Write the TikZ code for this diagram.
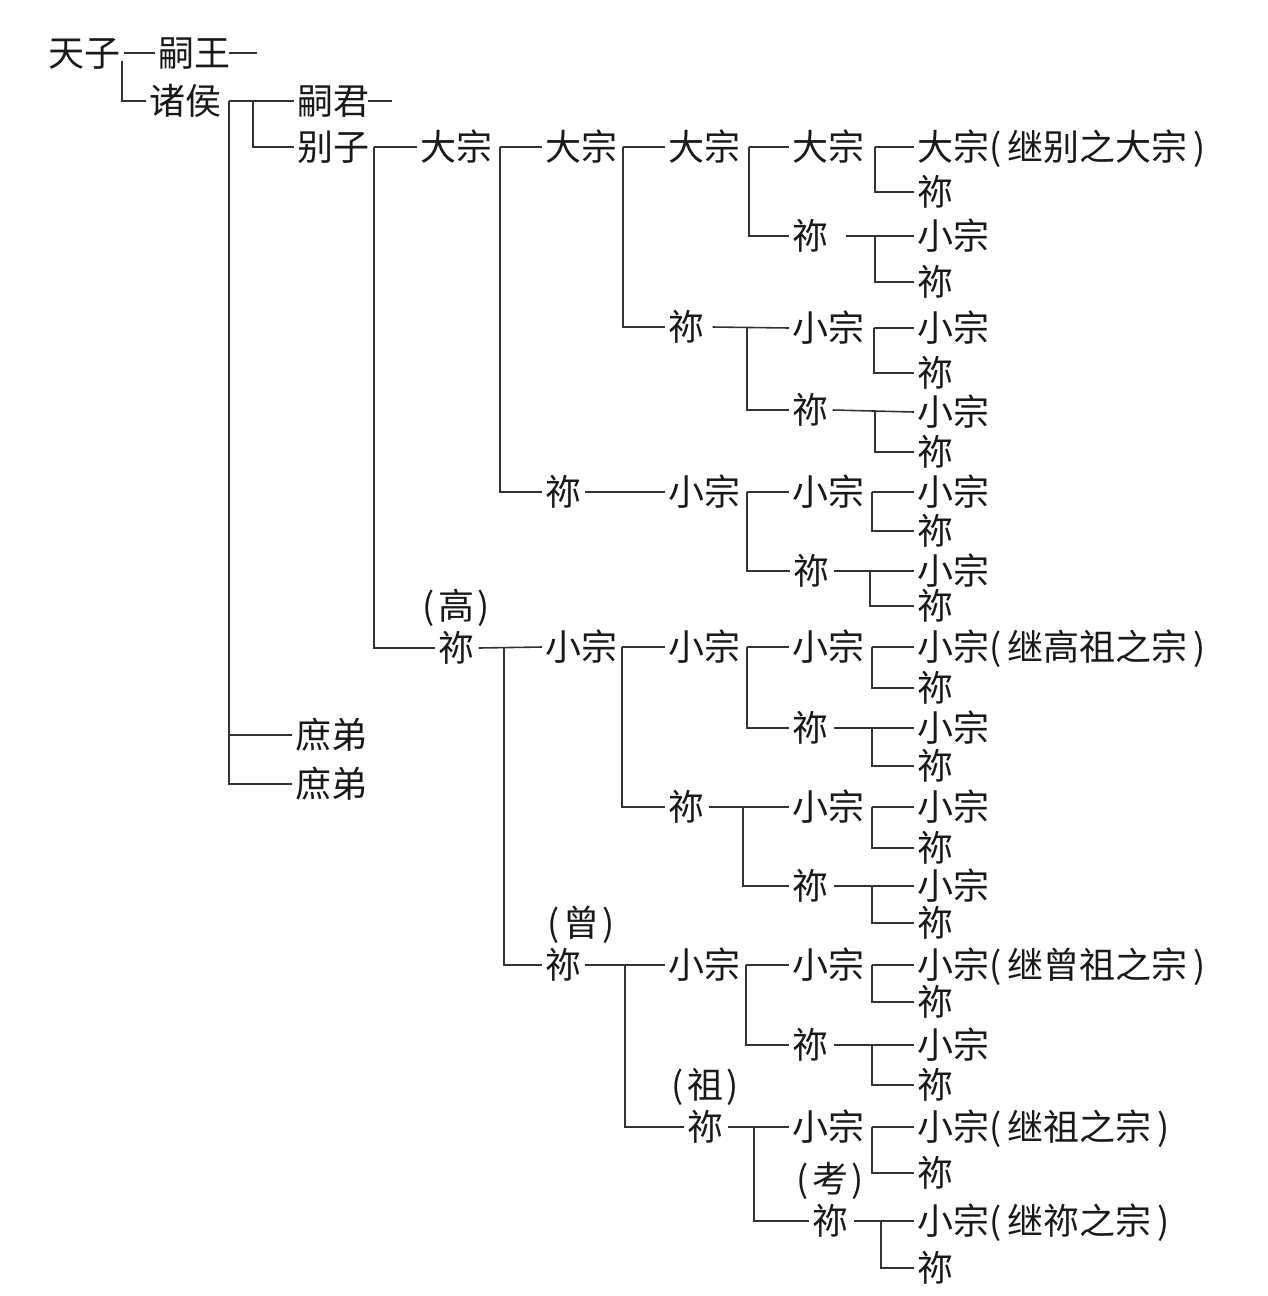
\documentclass[tikz,border=0pt]{standalone}
\usepackage{fontspec}
\setmainfont{Noto Sans CJK SC}
\usepackage{tikz}
\usetikzlibrary{positioning}

\begin{document}
\begin{tikzpicture}[
    x=0.02cm, y=-0.02cm,
    zong/.style={anchor=west, inner xsep=0.06cm, inner ysep=0pt, text height=18pt, text depth=2.5pt, font=\fontsize{20.5pt}{24pt}\selectfont, text=black!90},
    note/.style={zong, anchor=center},
    line/.style={draw, black!80, line width=0.9pt}
]
    \useasboundingbox (0,0) rectangle (1268,1296);

    \node [zong] (tianzi) at (45,53) {天子};
    \node [zong] (siwang) at (155,53) {嗣王};
    \node [zong] (zhuhou) at (146,101) {诸侯};
    \node [zong] (sijun) at (294,101) {嗣君};
    \node [zong] (biezi) at (294,147) {别子};
    \node [zong] (shudiA) at (292,735) {庶弟};
    \node [zong] (shudiB) at (292,784) {庶弟};
    \coordinate (wangend) at (257,53);
    \coordinate (junend) at (392,101);

    \node [zong] (A1) at (417,147) {大宗};
    \node [zong] (A2) at (435,648) {祢};
    \node [note, above=0.1cm of A2] (gao) {(\kern2pt高\kern2pt)};

    \node [zong] (B1) at (542,147) {大宗};
    \node [zong] (B2) at (542,492) {祢};
    \node [zong] (B3) at (542,647) {小宗};
    \node [zong] (B4) at (542,965) {祢};
    \node [note, above=0.1cm of B4, xshift=0.36cm] (zeng) {(\kern2pt曾\kern2pt)};

    \node [zong] (C1) at (665,147) {大宗};
    \node [zong] (C2) at (665,327) {祢};
    \node [zong] (C3) at (665,492) {小宗};
    \node [zong] (C4) at (665,647) {小宗};
    \node [zong] (C5) at (665,807) {祢};
    \node [zong] (C6) at (665,965) {小宗};
    \node [zong] (C7) at (684,1127) {祢};
    \node [note, above=0.1cm of C7] (zu) {(\kern2pt祖\kern2pt)};

    \node [zong] (D1) at (789,147) {大宗};
    \node [zong] (D2) at (789,236) {祢};
    \node [zong] (D3) at (789,328) {小宗};
    \node [zong] (D4) at (789,410) {祢};
    \node [zong] (D5) at (789,492) {小宗};
    \node [zong] (D6) at (790,571) {祢};
    \node [zong] (D7) at (789,647) {小宗};
    \node [zong] (D8) at (789,728) {祢};
    \node [zong] (D9) at (789,807) {小宗};
    \node [zong] (D10) at (789,886) {祢};
    \node [zong] (D11) at (789,965) {小宗};
    \node [zong] (D12) at (789,1045) {祢};
    \node [zong] (D13) at (789,1127) {小宗};
    \node [zong] (D14) at (809,1221) {祢};
    \node [note, above=0.1cm of D14] (kao) {(\kern2pt考\kern2pt)};

    \node [zong] (E1) at (914,147) {大宗(\,继别之大宗\,)};
    \node [zong] (E2) at (914,192) {祢};
    \node [zong] (E3) at (914,236) {小宗};
    \node [zong] (E4) at (914,282) {祢};
    \node [zong] (E5) at (914,328) {小宗};
    \node [zong] (E6) at (914,373) {祢};
    \node [zong] (E7) at (914,412) {小宗};
    \node [zong] (E8) at (914,452) {祢};
    \node [zong] (E9) at (914,492) {小宗};
    \node [zong] (E10) at (914,531) {祢};
    \node [zong] (E11) at (914,571) {小宗};
    \node [zong] (E12) at (914,606) {祢};
    \node [zong] (E13) at (914,647) {小宗(\,继高祖之宗\,)};
    \node [zong] (E14) at (914,688) {祢};
    \node [zong] (E15) at (914,728) {小宗};
    \node [zong] (E16) at (914,766) {祢};
    \node [zong] (E17) at (914,807) {小宗};
    \node [zong] (E18) at (914,848) {祢};
    \node [zong] (E19) at (914,886) {小宗};
    \node [zong] (E20) at (914,923) {祢};
    \node [zong] (E21) at (914,965) {小宗(\,继曾祖之宗\,)};
    \node [zong] (E22) at (914,1002) {祢};
    \node [zong] (E23) at (914,1045) {小宗};
    \node [zong] (E24) at (914,1085) {祢};
    \node [zong] (E25) at (914,1127) {小宗(\,继祖之宗\,)};
    \node [zong] (E26) at (914,1173) {祢};
    \node [zong] (E27) at (914,1221) {小宗(\,继祢之宗\,)};
    \node [zong] (E28) at (914,1268) {祢};

    \draw [line] (tianzi.east) -- (siwang.west);
    \draw [line] (tianzi.east) ++(-2,8) |- (zhuhou.west);
    \draw [line] (siwang.east) ++(-5,0) -- (wangend);
    \draw [line] (zhuhou.east) ++(4,0) -- (sijun.west);
    \draw [line] (zhuhou.east) ++(4,0) |- (shudiB.west);
    \draw [line] (zhuhou.east) ++(4,0) |- (shudiA.west);
    \draw [line] (zhuhou.east) ++(28,0) |- (biezi.west);
    \draw [line] (sijun.east) ++(-5,0) -- (junend);

    \draw [line] (biezi.east) ++(1,0) -- (A1.west);
    \draw [line] (biezi.east) ++(1,0) |- (A2.west);

    \draw [line] (A1.east) ++(4,0) -- (B1.west);
    \draw [line] (A1.east) ++(4,0) |- (B2.west);
    \draw [line] (A2.east) ++(1,0) -- (B3.west);
    \draw [line] (A2.east) ++(26,0) |- (B4.west);

    \draw [line] (B1.east) ++(2,0) -- (C1.west);
    \draw [line] (B1.east) ++(2,0) |- (C2.west);
    \draw [line] (B2.east) -- (C3.west);
    \draw [line] (B3.east) ++(1,0) -- (C4.west);
    \draw [line] (B3.east) ++(1,0) |- (C5.west);
    \draw [line] (B4.east) -- (C6.west);
    \draw [line] (B4.east) ++(40,0) |- (C7.west);

    \draw [line] (C1.east) ++(5,0) -- (D1.west);
    \draw [line] (C1.east) ++(5,0) |- (D2.west);
    \draw [line] (C2.east) ++(5,0) -- (D3.west);
    \draw [line] (C2.east) ++(39,0) |- (D4.west);
    \draw [line] (C3.east) ++(3,0) -- (D5.west);
    \draw [line] (C3.east) ++(3,0) |- (D6.west);
    \draw [line] (C4.east) ++(3,0) -- (D7.west);
    \draw [line] (C4.east) ++(3,0) |- (D8.west);
    \draw [line] (C5.east) ++(1,0) -- (D9.west);
    \draw [line] (C5.east) ++(35,0) |- (D10.west);
    \draw [line] (C6.east) ++(2,0) -- (D11.west);
    \draw [line] (C6.east) ++(2,0) |- (D12.west);
    \draw [line] (C7.east) ++(1,0) -- (D13.west);
    \draw [line] (C7.east) ++(27,0) |- (D14.west);

    \draw [line] (D1.east) ++(7,0) -- (E1.west);
    \draw [line] (D1.east) ++(7,0) |- (E2.west);
    \draw [line] (D2.east) ++(14,0) -- (E3.west);
    \draw [line] (D2.east) ++(43,0) |- (E4.west);
    \draw [line] (D3.east) ++(6,0) -- (E5.west);
    \draw [line] (D3.east) ++(6,0) |- (E6.west);
    \draw [line] (D4.east) ++(1,0) -- (E7.west);
    \draw [line] (D4.east) ++(43,0) |- (E8.west);
    \draw [line] (D5.east) ++(4,0) -- (E9.west);
    \draw [line] (D5.east) ++(4,0) |- (E10.west);
    \draw [line] (D6.east) ++(1,0) -- (E11.west);
    \draw [line] (D6.east) ++(37,0) |- (E12.west);
    \draw [line] (D7.east) ++(4,0) -- (E13.west);
    \draw [line] (D7.east) ++(4,0) |- (E14.west);
    \draw [line] (D8.east) ++(2,0) -- (E15.west);
    \draw [line] (D8.east) ++(40,0) |- (E16.west);
    \draw [line] (D9.east) ++(4,0) -- (E17.west);
    \draw [line] (D9.east) ++(4,0) |- (E18.west);
    \draw [line] (D10.east) ++(2,0) -- (E19.west);
    \draw [line] (D10.east) ++(40,0) |- (E20.west);
    \draw [line] (D11.east) ++(4,0) -- (E21.west);
    \draw [line] (D11.east) ++(4,0) |- (E22.west);
    \draw [line] (D12.east) ++(2,0) -- (E23.west);
    \draw [line] (D12.east) ++(40,0) |- (E24.west);
    \draw [line] (D13.east) ++(4,0) -- (E25.west);
    \draw [line] (D13.east) ++(4,0) |- (E26.west);
    \draw [line] (D14.east) ++(2,0) -- (E27.west);
    \draw [line] (D14.east) ++(29,0) |- (E28.west);

\end{tikzpicture}
\end{document}
